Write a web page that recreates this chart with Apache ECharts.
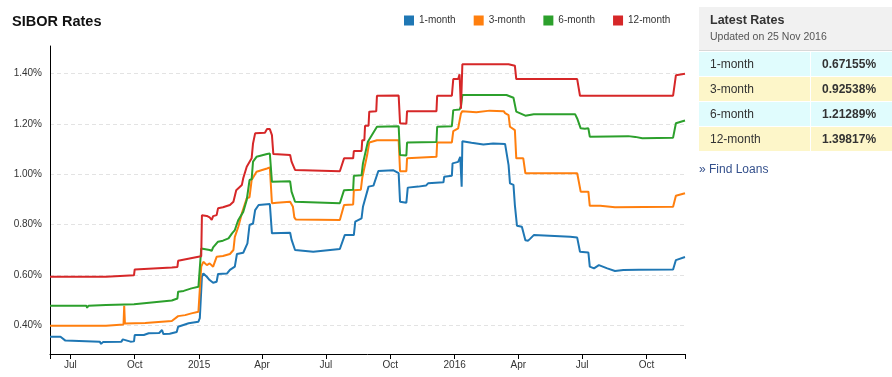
<!DOCTYPE html>
<html>
<head>
<meta charset="utf-8">
<script src="https://cdn.jsdelivr.net/npm/echarts@6/dist/echarts.min.js"></script>
<style>
html,body{margin:0;padding:0;background:#fff;width:892px;height:377px;overflow:hidden;}
#chart{position:absolute;left:0;top:0;width:892px;height:377px;}
#panel{position:absolute;left:699px;top:7px;width:193px;height:200px;font-family:'Liberation Sans',Arial,sans-serif;color:#333;}
#panel .hd{position:absolute;left:0;top:0;width:193px;height:43px;background:#f1f1f1;border-bottom:1px solid #d8d8d8;}
#panel .t{position:absolute;left:11px;top:6px;font-size:12.5px;line-height:15px;font-weight:bold;color:#333;white-space:nowrap;}
#panel .u{position:absolute;left:11px;top:23px;font-size:10.5px;line-height:12px;color:#555;white-space:nowrap;}
#panel table{position:absolute;left:0;top:45px;width:193px;border-collapse:collapse;}
#panel td{height:24px;padding:0;border-bottom:1px solid #fff;font-size:12px;line-height:24px;white-space:nowrap;}
#panel td.l{width:100px;padding-left:11px;border-right:1px solid #fff;}
#panel td.v{padding-left:11px;font-weight:bold;}
#panel tr.c td{background:#e0fcfd;}
#panel tr.y td{background:#fdf6c9;}
#panel .fl{position:absolute;left:0;top:155px;font-size:12px;line-height:15px;color:#34508c;white-space:nowrap;}
</style>
</head>
<body>
<div id="chart"></div>
<div id="panel">
  <div class="hd"><div class="t" id="pt"></div><div class="u" id="pu"></div></div>
  <table id="tbl"></table>
  <div class="fl" id="fl"></div>
</div>
<script>
const chartTitle = 'SIBOR Rates';
const seriesNames = ['1-month', '3-month', '6-month', '12-month'];
const seriesColors = ['#1f77b4', '#ff7f0e', '#2ca02c', '#d62728'];
const panelTitle = 'Latest Rates';
const panelUpdated = 'Updated on 25 Nov 2016';
const latestRates = ['0.67155%', '0.92538%', '1.21289%', '1.39817%'];
const findLoans = '\u00bb Find Loans';

const xTickDates = ['2014-07-01', '2014-10-01', '2015-01-01', '2015-04-01', '2015-07-01', '2015-10-01', '2016-01-01', '2016-04-01', '2016-07-01', '2016-10-01'];
const xTickLabels = ['Jul', 'Oct', '2015', 'Apr', 'Jul', 'Oct', '2016', 'Apr', 'Jul', 'Oct'];
const xStart = '2014-06-02';
const xEnd = '2016-11-25';
const yTicks = [0.4, 0.6, 0.8, 1.0, 1.2, 1.4];
const yMin = 0.288;
const yMax = 1.508;

const oneMonth = [
['2014-06-02',0.356],['2014-06-17',0.356],['2014-06-24',0.341],['2014-08-12',0.337],['2014-08-14',0.328],['2014-08-17',0.336],['2014-09-12',0.337],['2014-09-14',0.346],['2014-09-25',0.337],['2014-09-30',0.338],['2014-10-01',0.363],['2014-10-14',0.363],['2014-10-21',0.370],['2014-11-05',0.371],['2014-11-09',0.383],['2014-11-11',0.367],['2014-11-20',0.368],['2014-11-30',0.375],['2014-12-02',0.396],['2014-12-17',0.410],['2014-12-31',0.416],['2015-01-02',0.430],['2015-01-05',0.594],['2015-01-07',0.607],['2015-01-12',0.594],['2015-01-16',0.581],['2015-01-21',0.570],['2015-01-26',0.574],['2015-01-28',0.605],['2015-02-10',0.607],['2015-02-14',0.621],['2015-02-21',0.634],['2015-02-24',0.684],['2015-03-05',0.689],['2015-03-11',0.726],['2015-03-13',0.730],['2015-03-14',0.799],['2015-03-19',0.805],['2015-03-22',0.858],['2015-03-27',0.878],['2015-04-12',0.882],['2015-04-15',0.766],['2015-05-11',0.768],['2015-05-13',0.741],['2015-05-18',0.700],['2015-06-13',0.693],['2015-07-21',0.704],['2015-07-28',0.759],['2015-08-10',0.759],['2015-08-12',0.812],['2015-08-21',0.825],['2015-08-23',0.871],['2015-08-31',0.951],['2015-09-07',0.955],['2015-09-14',1.013],['2015-10-05',1.016],['2015-10-13',1.004],['2015-10-15',0.891],['2015-10-24',0.887],['2015-10-26',0.947],['2015-11-10',0.951],['2015-11-21',0.955],['2015-11-24',0.964],['2015-12-16',0.968],['2015-12-17',0.990],['2015-12-28',0.994],['2015-12-29',1.043],['2016-01-06',1.049],['2016-01-09',1.069],['2016-01-11',0.951],['2016-01-12',1.131],['2016-01-25',1.125],['2016-02-11',1.118],['2016-02-25',1.122],['2016-03-13',1.120],['2016-03-18',1.036],['2016-03-20',0.964],['2016-03-25',0.958],['2016-03-27',0.878],['2016-03-30',0.796],['2016-04-06',0.792],['2016-04-08',0.788],['2016-04-11',0.739],['2016-04-15',0.737],['2016-04-18',0.745],['2016-04-23',0.759],['2016-06-14',0.752],['2016-06-24',0.749],['2016-06-28',0.693],['2016-07-10',0.690],['2016-07-12',0.634],['2016-07-18',0.627],['2016-07-25',0.640],['2016-07-27',0.638],['2016-08-06',0.627],['2016-08-17',0.617],['2016-08-29',0.621],['2016-09-20',0.622],['2016-11-08',0.623],['2016-11-12',0.660],['2016-11-25',0.672]
];

const threeMonth = [
['2014-06-02',0.400],['2014-08-21',0.400],['2014-08-22',0.405],['2014-09-15',0.405],['2014-09-16',0.479],['2014-09-17',0.409],['2014-10-16',0.411],['2014-11-23',0.419],['2014-12-02',0.438],['2014-12-12',0.442],['2014-12-21',0.449],['2014-12-31',0.455],['2015-01-02',0.462],['2015-01-04',0.634],['2015-01-07',0.653],['2015-01-12',0.640],['2015-01-16',0.647],['2015-01-21',0.634],['2015-01-26',0.673],['2015-02-04',0.676],['2015-02-14',0.684],['2015-02-19',0.700],['2015-02-21',0.752],['2015-02-26',0.792],['2015-03-03',0.845],['2015-03-10',0.905],['2015-03-14',0.909],['2015-03-17',0.977],['2015-03-24',1.010],['2015-04-08',1.023],['2015-04-12',1.027],['2015-04-14',1.023],['2015-04-15',0.885],['2015-04-22',0.887],['2015-05-11',0.891],['2015-05-15',0.871],['2015-05-17',0.829],['2015-05-19',0.821],['2015-07-21',0.819],['2015-07-27',0.878],['2015-08-09',0.880],['2015-08-10',0.937],['2015-08-20',0.939],['2015-08-22',0.986],['2015-08-29',1.076],['2015-09-01',1.126],['2015-09-12',1.135],['2015-10-13',1.135],['2015-10-15',1.012],['2015-10-24',1.012],['2015-10-25',1.063],['2015-12-06',1.069],['2015-12-07',1.126],['2015-12-28',1.126],['2015-12-30',1.171],['2016-01-06',1.182],['2016-01-10',1.241],['2016-01-12',1.250],['2016-02-01',1.246],['2016-02-20',1.252],['2016-03-11',1.250],['2016-03-13',1.242],['2016-03-18',1.234],['2016-03-20',1.188],['2016-03-27',1.175],['2016-03-29',1.063],['2016-04-08',1.063],['2016-04-11',1.004],['2016-06-24',1.004],['2016-06-25',0.990],['2016-06-29',0.931],['2016-07-10',0.931],['2016-07-12',0.875],['2016-07-27',0.875],['2016-08-17',0.869],['2016-11-08',0.871],['2016-11-12',0.915],['2016-11-25',0.925]
];

const sixMonth = [
['2014-06-02',0.479],['2014-07-24',0.479],['2014-07-25',0.471],['2014-07-27',0.479],['2014-08-21',0.482],['2014-09-30',0.485],['2014-10-01',0.489],['2014-11-23',0.500],['2014-12-01',0.508],['2014-12-02',0.535],['2014-12-10',0.538],['2014-12-21',0.548],['2014-12-31',0.554],['2015-01-02',0.556],['2015-01-04',0.706],['2015-01-06',0.706],['2015-01-16',0.700],['2015-01-19',0.697],['2015-01-21',0.710],['2015-01-28',0.733],['2015-02-04',0.737],['2015-02-12',0.746],['2015-02-17',0.766],['2015-02-21',0.779],['2015-02-26',0.819],['2015-03-05',0.851],['2015-03-10',0.898],['2015-03-14',0.977],['2015-03-17',0.980],['2015-03-19',1.050],['2015-03-24',1.069],['2015-04-08',1.080],['2015-04-12',1.082],['2015-04-15',0.970],['2015-05-11',0.972],['2015-05-13',0.931],['2015-05-18',0.891],['2015-07-21',0.885],['2015-07-27',0.937],['2015-08-09',0.939],['2015-08-10',0.994],['2015-08-21',0.996],['2015-08-23',1.043],['2015-08-30',1.129],['2015-09-01',1.131],['2015-09-12',1.188],['2015-10-13',1.190],['2015-10-15',1.076],['2015-10-24',1.074],['2015-10-25',1.126],['2015-12-06',1.128],['2015-12-07',1.188],['2015-12-28',1.190],['2015-12-30',1.254],['2016-01-08',1.256],['2016-01-10',1.270],['2016-01-12',1.314],['2016-03-15',1.314],['2016-03-25',1.303],['2016-03-29',1.248],['2016-04-11',1.232],['2016-04-23',1.238],['2016-06-21',1.238],['2016-06-24',1.221],['2016-06-29',1.182],['2016-07-05',1.180],['2016-07-10',1.182],['2016-07-12',1.149],['2016-09-05',1.151],['2016-09-07',1.145],['2016-09-15',1.148],['2016-09-25',1.143],['2016-11-08',1.145],['2016-11-12',1.202],['2016-11-25',1.213]
];

const twelveMonth = [
['2014-06-02',0.594],['2014-08-21',0.594],['2014-08-22',0.600],['2014-09-30',0.600],['2014-10-01',0.623],['2014-11-23',0.631],['2014-12-01',0.633],['2014-12-02',0.657],['2014-12-31',0.673],['2015-01-04',0.675],['2015-01-05',0.838],['2015-01-12',0.835],['2015-01-16',0.829],['2015-01-19',0.819],['2015-01-21',0.834],['2015-01-26',0.838],['2015-01-28',0.865],['2015-02-04',0.869],['2015-02-14',0.878],['2015-02-19',0.891],['2015-02-23',0.937],['2015-03-03',0.957],['2015-03-05',0.984],['2015-03-10',1.030],['2015-03-17',1.063],['2015-03-19',1.122],['2015-03-22',1.162],['2015-04-05',1.164],['2015-04-08',1.179],['2015-04-12',1.179],['2015-04-15',1.155],['2015-04-17',1.080],['2015-05-11',1.076],['2015-05-13',1.050],['2015-05-18',1.017],['2015-07-21',1.012],['2015-07-27',1.063],['2015-08-09',1.063],['2015-08-10',1.092],['2015-08-21',1.092],['2015-08-22',1.135],['2015-08-25',1.135],['2015-08-26',1.192],['2015-08-31',1.192],['2015-09-01',1.248],['2015-09-11',1.250],['2015-09-12',1.311],['2015-10-13',1.312],['2015-10-15',1.202],['2015-10-24',1.200],['2015-10-25',1.250],['2015-12-06',1.250],['2015-12-07',1.311],['2015-12-28',1.311],['2015-12-30',1.377],['2016-01-06',1.377],['2016-01-08',1.396],['2016-01-10',1.260],['2016-01-12',1.436],['2016-03-18',1.436],['2016-03-20',1.430],['2016-03-27',1.430],['2016-03-29',1.377],['2016-06-24',1.377],['2016-06-28',1.311],['2016-11-08',1.311],['2016-11-12',1.392],['2016-11-25',1.398]
];

const allSeries = [oneMonth, threeMonth, sixMonth, twelveMonth];

// ---------- side panel (HTML) ----------
document.getElementById('pt').textContent = panelTitle;
document.getElementById('pu').textContent = panelUpdated;
document.getElementById('fl').textContent = findLoans;
const tbl = document.getElementById('tbl');
seriesNames.forEach(function (n, i) {
  const tr = document.createElement('tr');
  tr.className = (i % 2 === 0) ? 'c' : 'y';
  const a = document.createElement('td'); a.className = 'l'; a.textContent = n;
  const b = document.createElement('td'); b.className = 'v'; b.textContent = latestRates[i];
  tr.appendChild(a); tr.appendChild(b); tbl.appendChild(tr);
});

// ---------- chart ----------
function ts(s) { const p = s.split('-'); return new Date(+p[0], +p[1] - 1, +p[2]).getTime(); }
const xTickValues = xTickDates.map(ts);
const font = "'Liberation Sans', Arial, sans-serif";

const chart = echarts.init(document.getElementById('chart'), null, { renderer: 'canvas' });
chart.setOption({
  animation: false,
  backgroundColor: 'transparent',
  title: {
    text: chartTitle, left: 12, top: 14, padding: 0,
    textStyle: { fontFamily: font, fontSize: 14.5, fontWeight: 'bold', color: '#111' }
  },
  legend: {
    data: seriesNames, left: 404, top: 15.5, padding: 0,
    icon: 'rect', itemWidth: 10, itemHeight: 10, itemGap: 18,
    textStyle: { fontFamily: font, fontSize: 10, color: '#333' }
  },
  grid: { left: 50, right: 207, top: 46, bottom: 23, containLabel: false },
  xAxis: {
    type: 'value', min: ts(xStart), max: ts(xEnd), scale: true,
    axisLine: { show: true, onZero: false, lineStyle: { color: '#000', width: 1 } },
    axisTick: { show: true, length: 5, lineStyle: { color: '#000' }, customValues: [ts(xStart)].concat(xTickValues, [ts(xEnd)]) },
    axisLabel: {
      customValues: xTickValues, margin: 6, fontFamily: font, fontSize: 10, color: '#333',
      formatter: function (v) { const i = xTickValues.indexOf(v); return i >= 0 ? xTickLabels[i] : ''; }
    },
    splitLine: { show: false }
  },
  yAxis: {
    type: 'value', min: yMin, max: yMax,
    axisLine: { show: true, onZero: false, lineStyle: { color: '#000', width: 1 } },
    axisTick: { show: false, customValues: yTicks },
    axisLabel: {
      customValues: yTicks, margin: 8, fontFamily: font, fontSize: 10, color: '#333',
      formatter: function (v) { return v.toFixed(2) + '%'; }
    },
    splitLine: { show: true, lineStyle: { color: '#e3e3e3', type: [4, 3], width: 1 } }
  },
  series: seriesNames.map(function (n, i) {
    return {
      name: n, type: 'line', data: allSeries[i].map(function (d) { return [ts(d[0]), d[1]]; }),
      showSymbol: false, symbol: 'none',
      lineStyle: { width: 2, color: seriesColors[i] }, itemStyle: { color: seriesColors[i] },
      emphasis: { disabled: true }
    };
  })
});
</script>
</body>
</html>
